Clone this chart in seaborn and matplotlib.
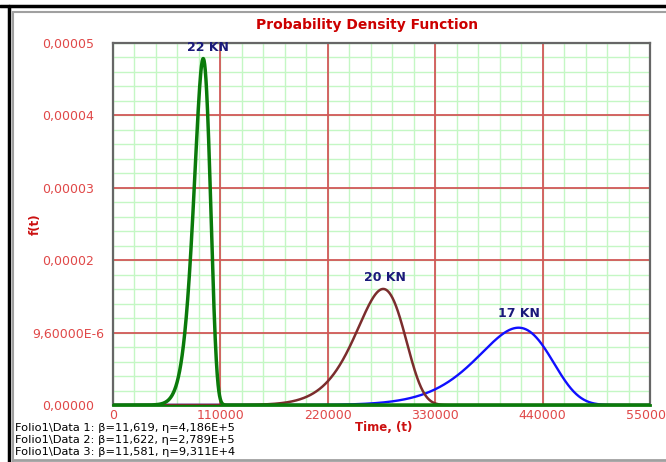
import numpy as np
import pandas as pd
import matplotlib
matplotlib.use("Agg")
import matplotlib.pyplot as plt
from matplotlib.lines import Line2D
import seaborn as sns

# Weibull fits for the three load levels
series = ["Folio1\\Data 1", "Folio1\\Data 2", "Folio1\\Data 3"]
loads = ["17 KN", "20 KN", "22 KN"]
beta = [11.619, 11.622, 11.581]
eta = [4.186e5, 2.789e5, 9.311e4]
beta_text = ["11,619", "11,622", "11,581"]
eta_text = ["4,186E+5", "2,789E+5", "9,311E+4"]
colors = ["#1010ff", "#7b2d2d", "#0a7a0a"]
widths = [1.7, 1.8, 2.5]

x_ticks = [0, 110000, 220000, 330000, 440000, 550000]
x_labels = ["0", "110000", "220000", "330000", "440000", "550000"]
y_ticks = [0, 9.6e-6, 1.92e-5, 2.88e-5, 3.84e-5, 4.8e-5]
y_labels = ["0,00000", "9,60000E-6", "0,00002", "0,00003", "0,00004", "0,00005"]

# Label positions for each curve (time, density)
label_t = [415800, 278600, 97300]
label_f = [1.207e-5, 1.684e-5, 4.734e-5]

sns.set_style("white")
plt.rcParams["font.family"] = ["DejaVu Sans"]

t = np.linspace(1, 550000, 3000)
frames = []
for name, b, e in zip(series, beta, eta):
    f = (b / e) * (t / e) ** (b - 1) * np.exp(-(t / e) ** b)
    frames.append(pd.DataFrame({"t": t, "f": f, "series": name}))
df = pd.concat(frames, ignore_index=True)

fig = plt.figure(figsize=(6.66, 4.62), dpi=100)
ax = fig.add_axes([113 / 666, 1 - 405 / 462, (650 - 113) / 666, (405 - 43) / 462])

# grid: light green minor, red major
minor_x = np.arange(0, 550001, 22000)
minor_y = np.arange(0, 4.8e-5 + 1e-12, 1.92e-6)
for v in minor_x:
    ax.axvline(v, color="#c4f7c4", lw=1.0, zorder=0)
for v in minor_y:
    ax.axhline(v, color="#c4f7c4", lw=1.0, zorder=0)
for v in x_ticks:
    ax.axvline(v, color="#d25858", lw=1.3, zorder=0.5)
for v in y_ticks:
    ax.axhline(v, color="#d25858", lw=1.3, zorder=0.5)

for name, c, w in zip(series, colors, widths):
    sns.lineplot(data=df[df["series"] == name], x="t", y="f", color=c, lw=w,
                 ax=ax, legend=False, zorder=3)

ax.set_xlim(0, 550000)
ax.set_ylim(0, 4.8e-5)
ax.set_xticks(x_ticks)
ax.set_xticklabels(x_labels)
ax.set_yticks(y_ticks)
ax.set_yticklabels(y_labels)
ax.tick_params(axis="x", labelsize=9, length=0, pad=3)
ax.tick_params(axis="y", labelsize=9, length=5, width=1.2, color="#555555",
               direction="out", pad=27)
for lbl in ax.get_xticklabels() + ax.get_yticklabels():
    lbl.set_color("#e04848")
for lbl in ax.get_yticklabels():
    lbl.set_horizontalalignment("center")

for side in ["top", "right", "left"]:
    ax.spines[side].set_color("#666666")
    ax.spines[side].set_linewidth(1.6)
ax.spines["bottom"].set_color("#0a7a0a")
ax.spines["bottom"].set_linewidth(2.0)

for lab, lt, lf in zip(loads, label_t, label_f):
    ax.text(lt, lf, lab, color="#1a1a7a", fontsize=9, fontweight="bold",
            ha="center", va="center", zorder=4)

ax.set_xlabel("Time, (t)", color="#cc1111", fontsize=8.5, fontweight="bold")
ax.set_ylabel("f(t)", color="#cc1111", fontsize=8.5, fontweight="bold")
ax.yaxis.label.set_verticalalignment("center")
ax.yaxis.set_label_coords((35 - 113) / 537, (405 - 224) / 362)
ax.xaxis.set_label_coords(0.505, -0.045)
fig.text(367 / 666, 1 - 25 / 462, "Probability Density Function", color="#cc0000",
         fontsize=10, fontweight="bold", ha="center", va="center")

# fit summary below the plot
for i, (name, bt, et) in enumerate(zip(series, beta_text, eta_text)):
    fig.text(15 / 666, 1 - (428 + i * 12) / 462,
             f"{name}: β={bt}, η={et}", fontsize=8.2, color="black",
             va="center", ha="left")

# window frame
fig.add_artist(Line2D([0, 1], [1 - 6 / 462] * 2, color="black", lw=2.5))
fig.add_artist(Line2D([8.5 / 666] * 2, [0, 1 - 6 / 462], color="black", lw=2.5))
fig.add_artist(Line2D([13 / 666, 1], [1 - 11.5 / 462] * 2, color="#a0a0a0", lw=1.5))
fig.add_artist(Line2D([13 / 666] * 2, [0, 1 - 11.5 / 462], color="#a0a0a0", lw=1.5))
fig.add_artist(Line2D([13 / 666, 1], [2 / 462] * 2, color="#a0a0a0", lw=2))

fig.savefig("out.png", dpi=100)
